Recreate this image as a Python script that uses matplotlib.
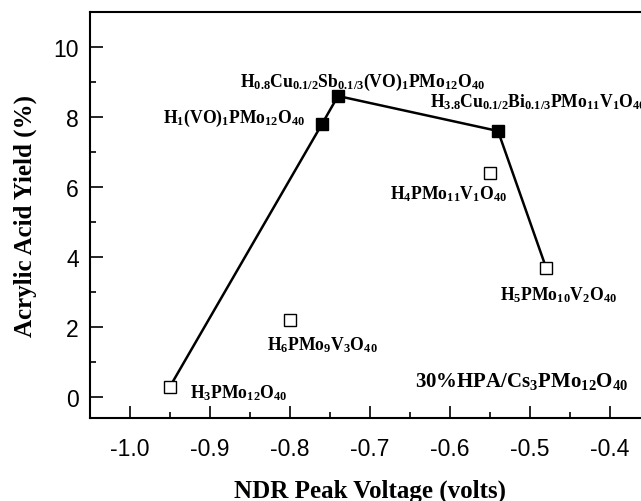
import matplotlib
matplotlib.use("Agg")
import matplotlib.pyplot as plt
from matplotlib.ticker import MultipleLocator

plt.rcParams["mathtext.fontset"] = "custom"
plt.rcParams["mathtext.rm"] = "Liberation Serif:bold"
plt.rcParams["mathtext.bf"] = "Liberation Serif:bold"
plt.rcParams["mathtext.it"] = "Liberation Serif:bold"

# connected series (in plotting order) and all samples
path_x = [-0.95, -0.76, -0.74, -0.54, -0.48]
path_y = [0.3, 7.8, 8.6, 7.6, 3.7]

filled_x = [-0.76, -0.74, -0.54]
filled_y = [7.8, 8.6, 7.6]
open_x = [-0.95, -0.80, -0.55, -0.48]
open_y = [0.3, 2.2, 6.4, 3.7]

labels = [
    (-0.95, 0.3, r"H$_3$PMo$_{12}$O$_{40}$"),
    (-0.80, 2.2, r"H$_6$PMo$_9$V$_3$O$_{40}$"),
    (-0.76, 7.8, r"H$_1$(VO)$_1$PMo$_{12}$O$_{40}$"),
    (-0.74, 8.6, r"H$_{0.8}$Cu$_{0.1/2}$Sb$_{0.1/3}$(VO)$_1$PMo$_{12}$O$_{40}$"),
    (-0.54, 7.6, r"H$_{3.8}$Cu$_{0.1/2}$Bi$_{0.1/3}$PMo$_{11}$V$_1$O$_{40}$"),
    (-0.55, 6.4, r"H$_4$PMo$_{11}$V$_1$O$_{40}$"),
    (-0.48, 3.7, r"H$_5$PMo$_{10}$V$_2$O$_{40}$"),
]
# (dx, dy) in pixels, horizontal alignment
label_pos = [
    (20, -11, "left"),
    (-23, -29, "left"),
    (-17, 2, "right"),
    (25, 10, "center"),
    (-68, 25, "left"),
    (17, -25, "right"),
    (-46, -32, "left"),
]

fig = plt.figure(figsize=(6.41, 5.02), dpi=100)
ax = fig.add_axes([90 / 641, 83 / 502, 560 / 641, 406 / 502])

ax.plot(path_x, path_y, "-", color="black", lw=1.8, zorder=2)
ax.plot(open_x, open_y, "s", ms=8.5, mfc="white", mec="black", mew=1.0, zorder=3, ls="none")
ax.plot(filled_x, filled_y, "s", ms=8.5, mfc="black", mec="black", zorder=4, ls="none")

for (x, y, txt), (dx, dy, ha) in zip(labels, label_pos):
    ax.annotate(txt, xy=(x, y), xytext=(dx, dy), textcoords="offset pixels",
                ha=ha, va="baseline", fontsize=12.7,
                family="Liberation Serif", weight="bold", annotation_clip=False)

ax.text(0.58, 0.079, r"30%HPA/Cs$_3$PMo$_{12}$O$_{40}$", transform=ax.transAxes,
        ha="left", va="baseline", fontsize=15, family="Liberation Serif", weight="bold")

ax.set_xlim(-1.05, -0.35)
ax.set_ylim(-0.6, 11)
ax.xaxis.set_minor_locator(MultipleLocator(0.05))
ax.yaxis.set_minor_locator(MultipleLocator(1))
ax.set_xticks([-1.0, -0.9, -0.8, -0.7, -0.6, -0.5, -0.4])
ax.set_xticklabels(["-1.0", "-0.9", "-0.8", "-0.7", "-0.6", "-0.5", "-0.4"])
ax.set_yticks([0, 2, 4, 6, 8, 10])
ax.set_yticklabels(["0", "2", "4", "6", "8", "10"])

ax.tick_params(which="major", direction="in", length=9, width=1.2,
               labelsize=16.5, top=False, right=False)
ax.tick_params(which="minor", direction="in", length=4.5, width=1.2, top=False, right=False)
ax.tick_params(axis="x", which="major", pad=14)
ax.tick_params(axis="y", which="major", pad=8)
for lab in ax.get_xticklabels() + ax.get_yticklabels():
    lab.set_family("Liberation Sans")
for s in ax.spines.values():
    s.set_linewidth(1.5)

ax.set_xlabel("NDR Peak Voltage (volts)", family="Liberation Serif", weight="bold",
              fontsize=18, labelpad=13)
ax.set_ylabel("Acrylic Acid Yield (%)", family="Liberation Serif", weight="bold",
              fontsize=18, labelpad=12)

fig.savefig("out.png", dpi=100, facecolor="white")
